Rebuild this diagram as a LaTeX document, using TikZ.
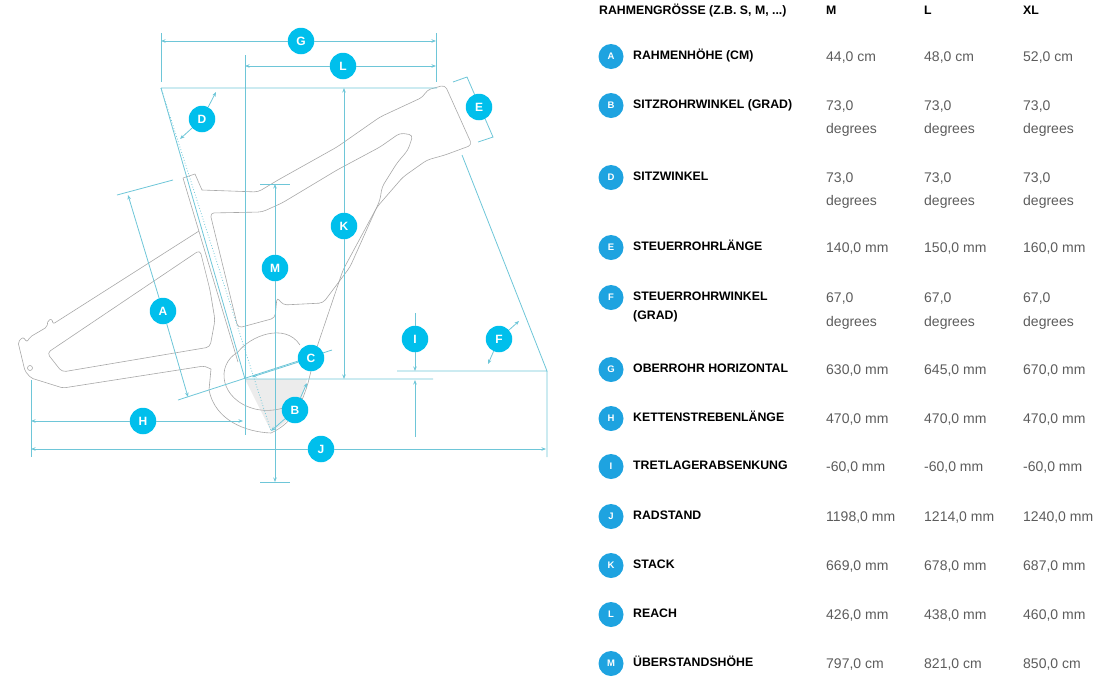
\documentclass[tikz,border=0pt]{standalone}
\usepackage{fontspec}
\setmainfont{Liberation Sans}
\usetikzlibrary{arrows.meta}
\definecolor{dimline}{RGB}{110,198,216}
\definecolor{dimblue}{RGB}{0,191,236}
\definecolor{tabblue}{RGB}{30,163,224}
\definecolor{tubegray}{RGB}{168,168,168}
\definecolor{valgray}{RGB}{92,92,92}
\tikzset{
dim/.style={draw=dimline,line width=0.8pt},
dimtip/.style={dim,-{Stealth[length=4.5pt,width=3.5pt]}},
tube/.style={draw=tubegray,line width=0.6pt,line join=round},
badge/.style={circle,fill=dimblue,text=white,minimum size=26.5pt,inner sep=0pt,font=\fontsize{12}{12}\selectfont\bfseries},
tbadge/.style={circle,fill=tabblue,text=white,minimum size=25pt,inner sep=0pt,font=\fontsize{9.5}{10}\selectfont\bfseries},
rowlabel/.style={anchor=base west,inner sep=0pt,font=\fontsize{12.3}{14}\selectfont\bfseries},
rowvalue/.style={anchor=base west,inner sep=0pt,text=valgray,font=\fontsize{14}{16}\selectfont}
}
\begin{document}
\begin{tikzpicture}[x=1pt,y=-1pt]
\useasboundingbox (0,0) rectangle (1119,689);
\path (161,88) coordinate (seat) (245,379) coordinate (bb) (547,371) coordinate (axle)
(161,41) coordinate (g1) (436,41) coordinate (g2) (245,66) coordinate (l1) (436,66) coordinate (l2)
(344,88) coordinate (k1) (344,379) coordinate (k2) (275,184) coordinate (m1) (275,482) coordinate (m2)
(128,195) coordinate (a1) (188,397) coordinate (a2) (31,421) coordinate (h1) (243,421) coordinate (h2)
(31,449) coordinate (j1) (546,449) coordinate (j2) (415,313) coordinate (i1) (415,371) coordinate (i2)
(415,437) coordinate (i3) (415,380) coordinate (i4) (216,92) coordinate (d1) (180,139) coordinate (d2)
(519,321) coordinate (f1) (488,364) coordinate (f2) (252,377) coordinate (c1)
(307,383) coordinate (b1) (271,431) coordinate (b2);
% frame
\fill[gray!15] (bb) -- (307,379) .. controls (302,405) and (290,423) .. (b2) -- cycle;
\draw[tube,rounded corners=2pt] (199,231) -- (53,324) -- (52,319) -- (48,320) -- (47,327) -- (30,337) -- (27,342) -- (23,337) -- (18,342) -- (25,371) -- (31,378) -- (63,388) -- (204,366) -- (211,369);
\draw[tube,rounded corners=4pt] (47,353) -- (200,250) -- (210,290) -- (215,320) -- (210,347) -- (62,372) -- cycle;
\draw[tube] (30,368) circle[radius=2.5];
\draw[tube] (183,178) -- (195,174) -- (202,190);
\draw[tube] (183,178) -- (238,362);
\draw[tube,rounded corners=4pt] (202,190) -- (258,192) -- (278,180) -- (337,147) -- (380,117) -- (423,97) -- (427,90) -- (445,85) -- (472,145) -- (445,155) -- (427,160) -- (403,177) -- (377,207) -- (343,270) -- (317,347) -- (308,383);
\draw[tube] (308,383) .. controls (300,410) and (290,424) .. (271,433) .. controls (245,432) and (215,420) .. (209,390) -- (211,369);
\draw[tube,rounded corners=4pt] (210,213) -- (262,212) -- (282,203) -- (337,170) -- (380,147) -- (400,133) -- (413,135) -- (408,150) -- (397,163) -- (382,187) -- (380,200) -- (350,267) -- (323,303) -- (283,305) -- (277,297) -- (275,318) -- (238,328) -- cycle;
\draw[tube] (238,352) .. controls (250,336) and (285,322) .. (300,345);
\draw[tube] (238,352) .. controls (215,365) and (220,400) .. (255,409) .. controls (272,413) and (290,408) .. (302,398);
% dimensions
\draw[dim] (161,33) -- (161,82) (436,33) -- (436,82) (245,55) -- (245,435);
\draw[dim] (seat) -- (437,88) (seat) -- (bb) (bb) -- (433,379);
\draw[dim,dotted] (seat) -- (b2);
\draw[dim] (397,371) -- (axle) -- (462,155) (axle) -- (547,457);
\draw[dim] (31,380) -- (31,457);
\draw[dim] (117,195) -- (173,180) (178,400) -- (332,350);
\draw[dim] (260,184) -- (290,184) (260,482) -- (290,482);
\draw[dim] (453,82) -- (467,77) -- (493,137) -- (478,142);
\foreach \n/\p in {G/{301,41},L/{343,66},D/{202,119},E/{479,107},K/{344,226},M/{275,268},A/{163,311},I/{415,339},F/{499,339},C/{311,358},B/{295,410},H/{143,421},J/{321,449}}
\node[badge] (\n) at (\p) {\n};
\foreach \n/\p/\q in {G/g1/g2,L/l1/l2,K/k1/k2,M/m1/m2,A/a1/a2,H/h1/h2,J/j1/j2,D/d1/d2,F/f1/f2,B/b1/b2}{
\draw[dimtip] (\n) -- (\p);
\draw[dimtip] (\n) -- (\q);
}
\draw[dim] (I) -- (i1);
\draw[dimtip] (I) -- (i2);
\draw[dimtip] (i3) -- (i4);
\draw[dimtip] (C) -- (c1);
% table
\node[rowlabel] (size) at (599,14.5) {RAHMENGRÖSSE (Z.B. S, M, ...)};
\node[rowlabel] (sizeM) at (826,14.5) {M};
\node[rowlabel] (sizeL) at (924,14.5) {L};
\node[rowlabel] (sizeXL) at (1023,14.5) {XL};
\foreach \k/\t/\y/\vm/\vl/\vx in {A/{RAHMENHÖHE (CM)}/55/{44,0 cm}/{48,0 cm}/{52,0 cm},
B/{SITZROHRWINKEL (GRAD)}/104/{73,0}/{73,0}/{73,0},
D/{SITZWINKEL}/176/{73,0}/{73,0}/{73,0},
E/{STEUERROHRLÄNGE}/246/{140,0 mm}/{150,0 mm}/{160,0 mm},
F/{STEUERROHRWINKEL}/296/{67,0}/{67,0}/{67,0},
G/{OBERROHR HORIZONTAL}/368/{630,0 mm}/{645,0 mm}/{670,0 mm},
H/{KETTENSTREBENLÄNGE}/417/{470,0 mm}/{470,0 mm}/{470,0 mm},
I/{TRETLAGERABSENKUNG}/465/{-60,0 mm}/{-60,0 mm}/{-60,0 mm},
J/{RADSTAND}/515/{1198,0 mm}/{1214,0 mm}/{1240,0 mm},
K/{STACK}/564/{669,0 mm}/{678,0 mm}/{687,0 mm},
L/{REACH}/613/{426,0 mm}/{438,0 mm}/{460,0 mm},
M/{ÜBERSTANDSHÖHE}/662/{797,0 cm}/{821,0 cm}/{850,0 cm}}{
\node[tbadge] (b\k) at (611,{\y+1.5}) {\k};
\node[rowlabel] (t\k) at (633,{\y+4.4}) {\t};
\node[rowvalue] (m\k) at (826,{\y+6}) {\vm};
\node[rowvalue] (l\k) at (924,{\y+6}) {\vl};
\node[rowvalue] (x\k) at (1023,{\y+6}) {\vx};
}
\node[rowlabel] (tF2) at (633,319.4) {(GRAD)};
\foreach \y in {128,200,321}
\foreach \cx in {826,924,1023}
\node[rowvalue] (deg\y\cx) at (\cx,{\y+5}) {degrees};
\end{tikzpicture}
\end{document}
